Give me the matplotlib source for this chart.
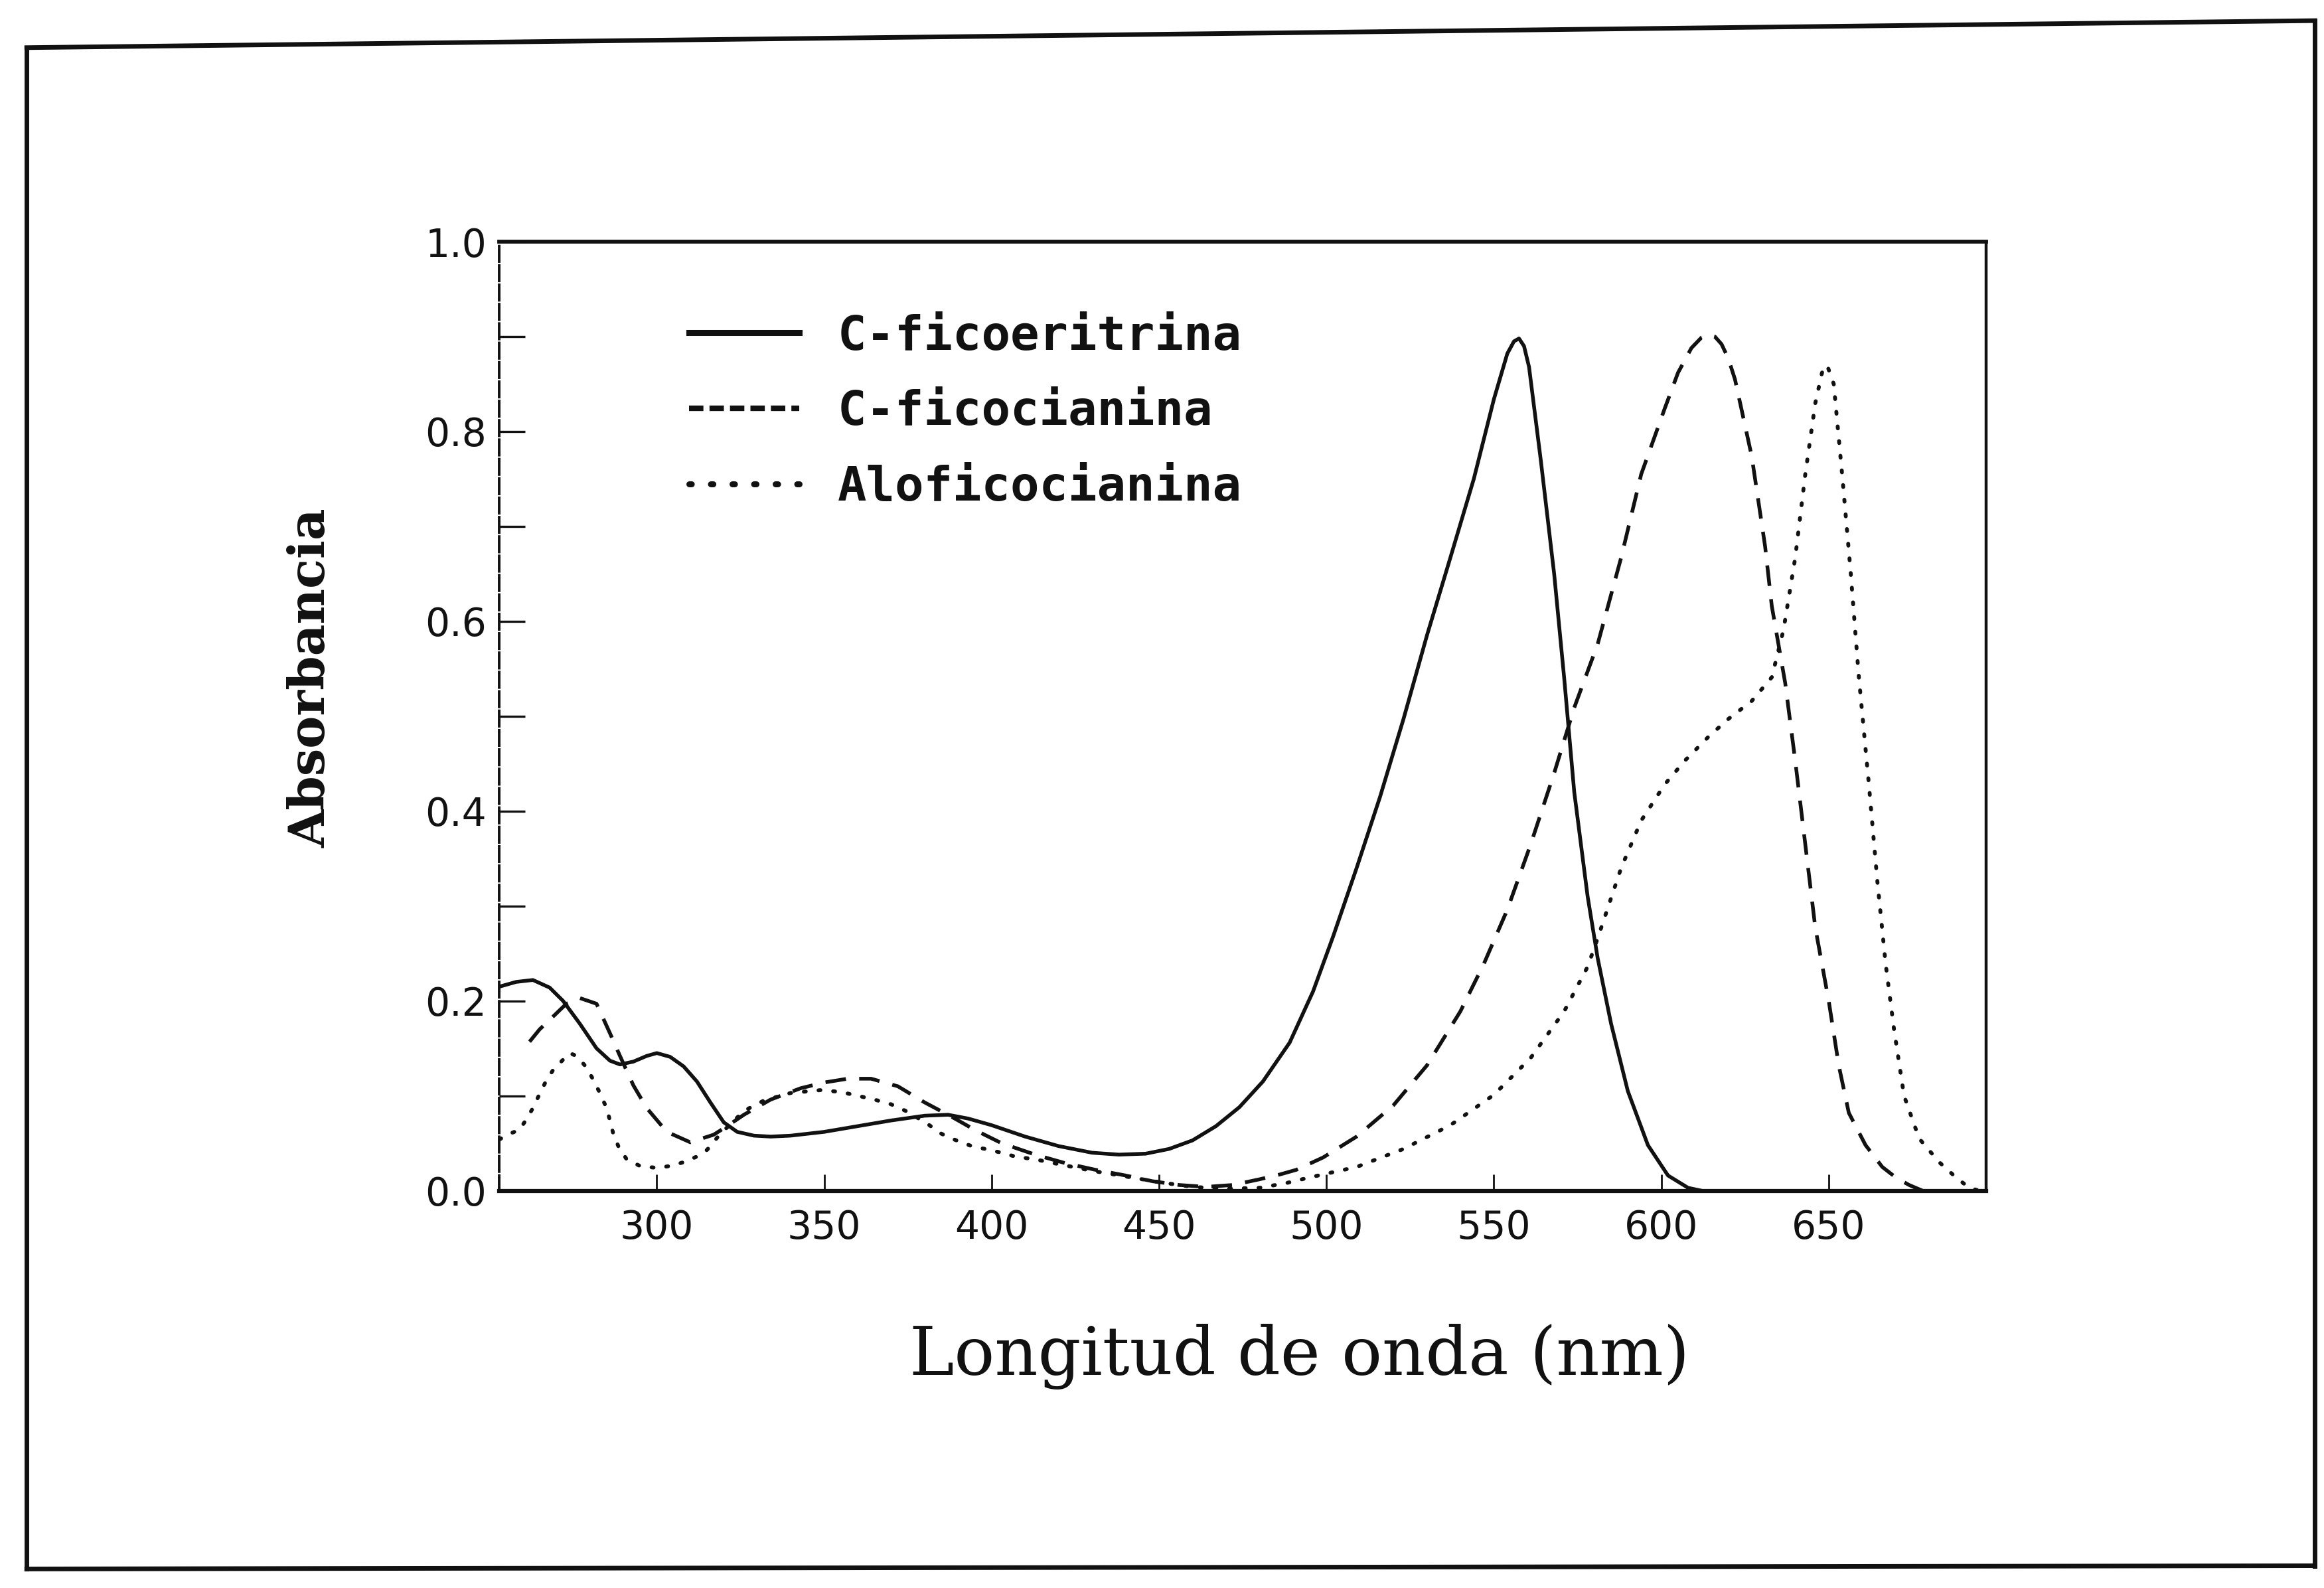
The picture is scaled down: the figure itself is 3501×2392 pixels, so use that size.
import numpy as np
import matplotlib

matplotlib.use('Agg')
import matplotlib.pyplot as plt
from matplotlib.lines import Line2D
from matplotlib.font_manager import FontProperties


# C-ficoeritrina (solid)
wl_pe = [253, 258, 263, 268, 272, 277, 282, 286, 289, 293, 297, 300, 304, 308, 312,
         316, 320, 324, 329, 334, 340, 350, 360, 370, 380, 387, 393, 400, 410, 420,
         430, 438, 446, 453, 460, 467, 474, 481, 489, 496, 502, 509, 516, 523, 530,
         537, 544, 550, 554, 556, 557.5, 559, 560.5, 564, 568, 571, 574, 578, 581, 585,
         590, 596, 602, 608, 612]
abs_pe = [0.215, 0.220, 0.222, 0.214, 0.200, 0.176, 0.150, 0.137, 0.133, 0.136, 0.142,
          0.145, 0.141, 0.131, 0.115, 0.093, 0.072, 0.062, 0.058, 0.057, 0.058, 0.062,
          0.068, 0.074, 0.079, 0.080, 0.076, 0.069, 0.057, 0.047, 0.040, 0.038, 0.039,
          0.044, 0.053, 0.068, 0.088, 0.115, 0.156, 0.210, 0.268, 0.340, 0.415, 0.497,
          0.585, 0.667, 0.750, 0.834, 0.882, 0.895, 0.898, 0.890, 0.868, 0.770, 0.650,
          0.540, 0.420, 0.310, 0.245, 0.176, 0.105, 0.048, 0.016, 0.003, 0.0]

# C-ficocianina (dashed)
wl_pc = [262, 265, 268, 273, 277, 282, 286, 289, 293, 297, 303, 310, 317, 321, 326,
         334, 343, 350, 357, 364, 372, 380, 388, 395, 403, 413, 422, 431, 440, 448,
         456, 464, 472, 480, 486, 491, 499, 509, 520, 530, 540, 547, 554, 561, 568,
         574, 581, 588, 594, 601, 605, 609, 612, 614, 616, 618, 620, 622, 627, 631,
         633, 637, 640, 643, 646, 650, 653, 656, 661, 666, 670, 674, 678]
abs_pc = [0.157, 0.170, 0.180, 0.197, 0.203, 0.197, 0.166, 0.142, 0.111, 0.087, 0.062,
          0.051, 0.059, 0.068, 0.080, 0.096, 0.108, 0.114, 0.118, 0.118, 0.110, 0.093,
          0.078, 0.064, 0.050, 0.038, 0.029, 0.022, 0.016, 0.010, 0.006, 0.004, 0.006,
          0.012, 0.017, 0.022, 0.035, 0.057, 0.090, 0.132, 0.189, 0.239, 0.296, 0.365,
          0.440, 0.509, 0.576, 0.667, 0.755, 0.824, 0.862, 0.888, 0.899, 0.902, 0.900,
          0.892, 0.877, 0.855, 0.774, 0.679, 0.616, 0.535, 0.453, 0.365, 0.277, 0.200,
          0.132, 0.082, 0.048, 0.025, 0.014, 0.006, 0.0]

# Aloficocianina (dotted)
wl_apc = [253, 256, 259, 261, 263, 265, 267, 269, 272, 274, 276, 279, 281, 283, 285,
          286, 287, 288.5, 291, 295, 300, 304, 308, 312, 315, 319, 322, 326, 332, 340,
          349, 355, 360, 365, 370, 375, 381, 385, 388, 394, 398, 403, 407, 413, 420,
          430, 440, 450, 460, 470, 480, 488, 495, 509, 523, 537, 550, 561, 571, 578,
          581, 588, 594, 601, 607, 614, 620, 627, 633, 636.5, 640, 643, 646, 648, 649.5,
          651.5, 654, 656.5, 659, 662, 664.5, 667, 669.5, 672.5, 677, 683, 688, 692, 695]
abs_apc = [0.054, 0.060, 0.064, 0.075, 0.087, 0.102, 0.116, 0.127, 0.138, 0.145, 0.142,
           0.130, 0.117, 0.103, 0.087, 0.074, 0.060, 0.047, 0.033, 0.026, 0.024, 0.026,
           0.030, 0.036, 0.043, 0.060, 0.070, 0.084, 0.095, 0.103, 0.106, 0.104, 0.100,
           0.096, 0.091, 0.083, 0.070, 0.060, 0.055, 0.047, 0.044, 0.040, 0.036, 0.033,
           0.028, 0.021, 0.015, 0.009, 0.004, 0.002, 0.003, 0.008, 0.014, 0.025, 0.044,
           0.069, 0.101, 0.140, 0.189, 0.236, 0.266, 0.340, 0.390, 0.428, 0.453, 0.478,
           0.497, 0.516, 0.541, 0.591, 0.667, 0.755, 0.830, 0.862, 0.870, 0.850, 0.755,
           0.654, 0.541, 0.428, 0.327, 0.239, 0.170, 0.100, 0.055, 0.030, 0.014, 0.003, 0.0]

labels = ['C-ficoeritrina', 'C-ficocianina', 'Aloficocianina']
xticks = [300, 350, 400, 450, 500, 550, 600, 650]
yticks = [0.0, 0.2, 0.4, 0.6, 0.8, 1.0]
ytick_labels = ['0.0', '0.2', '0.4', '0.6', '0.8', '1.0']

ink = '#111111'

fig = plt.figure(figsize=(35.01, 23.92), dpi=100)
ax = fig.add_axes([0.2149, 0.2502, 0.6397, 0.5976])

ax.plot(wl_pe, abs_pe, color=ink, lw=4.0, ls='-', solid_joinstyle='round')
ax.plot(wl_pc, abs_pc, color=ink, lw=4.0, ls=(0, (5.6, 3.6)))
ax.plot(wl_apc, abs_apc, color=ink, lw=4.2, ls=(0, (0.5, 3.3)), dash_capstyle='round')

ax.set_xlim(253, 697)
ax.set_ylim(0, 1.0)

ax.set_xticks(xticks)
ax.set_xticklabels([str(t) for t in xticks])
ax.set_yticks(yticks)
ax.set_yticklabels(ytick_labels)
ax.set_yticks([0.1, 0.3, 0.5, 0.7, 0.9], minor=True)

ax.tick_params(axis='x', direction='in', length=18, width=2, pad=20,
               labelsize=42, colors=ink)
ax.tick_params(axis='y', which='both', direction='in', length=28, width=2.4, pad=14,
               labelsize=42, colors=ink)
for lab in ax.get_xticklabels() + ax.get_yticklabels():
    lab.set_family('DejaVu Sans')

ax.spines['top'].set_linewidth(4.2)
ax.spines['bottom'].set_linewidth(4.5)
ax.spines['right'].set_linewidth(3.2)
ax.spines['left'].set_linewidth(2.8)
ax.spines['left'].set_linestyle((0, (6, 1.5)))
for s in ax.spines.values():
    s.set_color(ink)

ax.set_xlabel('Longitud de onda (nm)', fontsize=73, family='DejaVu Serif',
              color=ink, va='center')
ax.xaxis.set_label_coords(0.538, -0.175)
ax.set_ylabel('Absorbancia', fontsize=53, family='DejaVu Serif', weight='bold',
              color=ink, va='center')
ax.yaxis.set_label_coords(-0.1266, 0.540)

handles = [
    Line2D([], [], color=ink, lw=6.5, ls='-'),
    Line2D([], [], color=ink, lw=6.0, ls=(0, (2.6, 1.1))),
    Line2D([], [], color=ink, lw=6.5, ls=(0, (0.4, 3.2)), dash_capstyle='round'),
]
ax.legend(handles, labels, loc='upper left', bbox_to_anchor=(0.1276, 0.924),
          frameon=False, prop=FontProperties(family='DejaVu Sans Mono', weight='bold', size=52),
          handlelength=2.3, handletextpad=0.8, labelspacing=0.62,
          borderpad=0, borderaxespad=0, labelcolor=ink)

# page border of the scanned figure
border = dict(transform=fig.transFigure, color=ink, lw=5)
fig.add_artist(Line2D([0.0115, 0.996], [0.970, 0.987], **border))
fig.add_artist(Line2D([0.0115, 0.0115], [0.012, 0.970], **border))
fig.add_artist(Line2D([0.0115, 0.996], [0.012, 0.014], **border))
fig.add_artist(Line2D([0.996, 0.996], [0.014, 0.987], **border))

fig.savefig('out.png', dpi=100)
